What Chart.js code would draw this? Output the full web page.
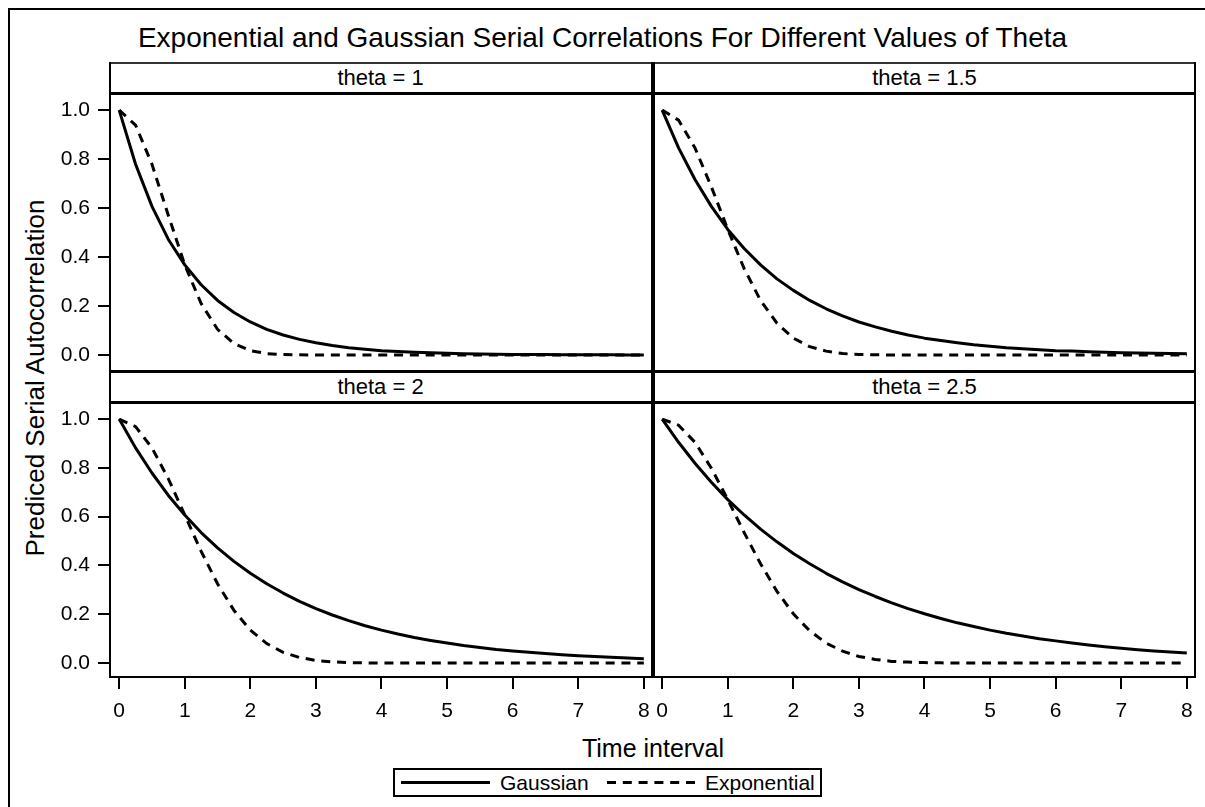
<!DOCTYPE html>
<html>
<head>
<meta charset="utf-8">
<title>Exponential and Gaussian Serial Correlations</title>
<script src="https://cdn.jsdelivr.net/npm/chart.js@4.4.1/dist/chart.umd.min.js"></script>
<style>
  html, body { margin: 0; padding: 0; background: #fff; }
  body { width: 1205px; height: 807px; position: relative; overflow: hidden;
         font-family: 'Liberation Sans', Arial, sans-serif; color: #000; }
  .abs { position: absolute; white-space: nowrap; }
  .frame { position: absolute; left: 8px; top: 8px; width: 1400px; height: 1000px;
           border-left: 2px solid #000; border-top: 2px solid #000; }
  .title { left: 0; top: 24px; width: 1205px; text-align: center; font-size: 28px; line-height: 28px; }
  .strip { display: flex; align-items: center; justify-content: center; font-size: 22px; }
  .rule { position: absolute; background: #000; }
  canvas { position: absolute; }
  .legend { position: absolute; left: 393px; top: 768px; width: 425px; height: 25px; border: 2px solid #000; }
  .legend span { position: absolute; top: 0; font-size: 21px; line-height: 25px; }
  .legend svg { position: absolute; top: 0; }
</style>
</head>
<body>
<div class="frame"></div>
<div class="abs title">Exponential and Gaussian Serial Correlations For Different Values of Theta</div>

<canvas id="panel1" width="603" height="276" style="left:50px; top:93px;"></canvas>
<canvas id="panel2" width="543" height="276" style="left:653px; top:93px;"></canvas>
<canvas id="panel3" width="603" height="330" style="left:50px; top:402px;"></canvas>
<canvas id="panel4" width="543" height="330" style="left:653px; top:402px;"></canvas>

<div class="abs strip" id="strip1" style="left:110px; top:64px; width:541px; height:28px;"></div>
<div class="abs strip" id="strip2" style="left:655px; top:64px; width:539px; height:28px;"></div>
<div class="abs strip" id="strip3" style="left:110px; top:373px; width:541px; height:28px;"></div>
<div class="abs strip" id="strip4" style="left:655px; top:373px; width:539px; height:28px;"></div>

<!-- panel frames -->
<div class="rule" style="left:109px; top:62px; width:1087px; height:2px; background:#333;"></div>
<div class="rule" style="left:109px; top:92px; width:1087px; height:3px;"></div>
<div class="rule" style="left:109px; top:370px; width:1087px; height:3px;"></div>
<div class="rule" style="left:109px; top:401px; width:1087px; height:3px;"></div>
<div class="rule" style="left:109px; top:676px; width:1087px; height:2px;"></div>
<div class="rule" style="left:109px; top:62px; width:2px; height:616px;"></div>
<div class="rule" style="left:651px; top:62px; width:4px; height:616px;"></div>
<div class="rule" style="left:1194px; top:62px; width:2px; height:616px;"></div>

<div class="abs" style="left:35px; top:378px; font-size:26px; line-height:26px; transform: translate(-50%, -50%) rotate(-90deg);">Prediced Serial Autocorrelation</div>
<div class="abs" style="left:110px; top:736px; width:1086px; text-align:center; font-size:25px; line-height:25px;">Time interval</div>

<div class="legend">
  <svg style="left:6px;" width="89" height="25"><line x1="0" y1="12.5" x2="89" y2="12.5" stroke="#000" stroke-width="3"/></svg>
  <span style="left:105px;">Gaussian</span>
  <svg style="left:212px;" width="88" height="25"><line x1="0" y1="12.5" x2="88" y2="12.5" stroke="#000" stroke-width="3" stroke-dasharray="9 6.8"/></svg>
  <span style="left:310px;">Exponential</span>
</div>

<script>
const timeInterval = [0, 0.25, 0.5, 0.75, 1, 1.25, 1.5, 1.75, 2, 2.25, 2.5, 2.75, 3, 3.25, 3.5, 3.75,
    4, 4.25, 4.5, 4.75, 5, 5.25, 5.5, 5.75, 6, 6.25, 6.5, 6.75, 7, 7.25, 7.5, 7.75, 8];

const thetaLabels = ['theta = 1', 'theta = 1.5', 'theta = 2', 'theta = 2.5'];

// solid curves
const gaussianTheta1 = [1, 0.779, 0.607, 0.472, 0.368, 0.287, 0.223, 0.174, 0.135, 0.105, 0.082, 0.064, 0.050,
    0.039, 0.030, 0.024, 0.018, 0.014, 0.011, 0.009, 0.007, 0.005, 0.004, 0.003, 0.002, 0.002, 0.002,
    0.001, 0.001, 0.001, 0.001, 0, 0];
const gaussianTheta15 = [1, 0.846, 0.717, 0.607, 0.513, 0.435, 0.368, 0.311, 0.264, 0.223, 0.189, 0.160, 0.135,
    0.115, 0.097, 0.082, 0.069, 0.059, 0.050, 0.042, 0.036, 0.030, 0.026, 0.022, 0.018, 0.016, 0.013,
    0.011, 0.009, 0.008, 0.007, 0.006, 0.005];
const gaussianTheta2 = [1, 0.882, 0.779, 0.687, 0.607, 0.535, 0.472, 0.417, 0.368, 0.325, 0.287, 0.253, 0.223,
    0.197, 0.174, 0.153, 0.135, 0.119, 0.105, 0.093, 0.082, 0.072, 0.064, 0.056, 0.050, 0.044, 0.039,
    0.034, 0.030, 0.027, 0.024, 0.021, 0.018];
const gaussianTheta25 = [1, 0.905, 0.819, 0.741, 0.670, 0.607, 0.549, 0.497, 0.449, 0.407, 0.368, 0.333, 0.301,
    0.273, 0.247, 0.223, 0.202, 0.183, 0.165, 0.150, 0.135, 0.122, 0.111, 0.100, 0.091, 0.082, 0.074,
    0.067, 0.061, 0.055, 0.050, 0.045, 0.041];

// dashed curves
const exponentialTheta1 = [1, 0.939, 0.779, 0.570, 0.368, 0.210, 0.105, 0.047, 0.018, 0.006, 0.002, 0.001, 0,
    0, 0, 0, 0, 0, 0, 0, 0, 0, 0, 0, 0, 0, 0, 0, 0, 0, 0, 0, 0];
const exponentialTheta15 = [1, 0.959, 0.846, 0.687, 0.513, 0.353, 0.223, 0.130, 0.069, 0.034, 0.016, 0.006, 0.002,
    0.001, 0, 0, 0, 0, 0, 0, 0, 0, 0, 0, 0, 0, 0, 0, 0, 0, 0, 0, 0];
const exponentialTheta2 = [1, 0.969, 0.882, 0.755, 0.607, 0.458, 0.325, 0.216, 0.135, 0.080, 0.044, 0.023, 0.011,
    0.005, 0.002, 0.001, 0, 0, 0, 0, 0, 0, 0, 0, 0, 0, 0, 0, 0, 0, 0, 0, 0];
const exponentialTheta25 = [1, 0.975, 0.905, 0.799, 0.670, 0.535, 0.407, 0.294, 0.202, 0.132, 0.082, 0.049, 0.027,
    0.015, 0.007, 0.004, 0.002, 0.001, 0, 0, 0, 0, 0, 0, 0, 0, 0, 0, 0, 0, 0, 0, 0];

const xTicks = [0, 1, 2, 3, 4, 5, 6, 7, 8];
const yTicks = [0, 0.2, 0.4, 0.6, 0.8, 1.0];

Chart.defaults.font.family = "'Liberation Sans', Arial, sans-serif";
Chart.defaults.color = '#000';

const toPoints = (vals) => timeInterval.map((t, i) => ({ x: t, y: vals[i] }));

// fixed axis sizes so every plot area lands on the panel frames
const fixAxis = (s, size) => {
    if (s.options.display) {
        if (s.isHorizontal()) s.height = size; else s.width = size;
    }
    s.paddingLeft = 0;
    s.paddingRight = 0;
    s.paddingTop = 0;
    s.paddingBottom = 0;
};

function makePanel(id, gaussVals, expVals, showX, showY) {
    new Chart(document.getElementById(id), {
        type: 'line',
        data: {
            datasets: [{
                label: 'Gaussian',
                data: toPoints(gaussVals),
                borderColor: '#000',
                borderWidth: 3,
                borderJoinStyle: 'round',
                pointRadius: 0,
                fill: false
            }, {
                label: 'Exponential',
                data: toPoints(expVals),
                borderColor: '#000',
                borderWidth: 3,
                borderDash: [9, 6.8],
                pointRadius: 0,
                fill: false
            }]
        },
        options: {
            responsive: false,
            animation: false,
            devicePixelRatio: 1,
            layout: { padding: 0, autoPadding: false },
            plugins: { legend: { display: false }, tooltip: { enabled: false } },
            scales: {
                x: {
                    type: 'linear',
                    min: -0.14,
                    max: 8.14,
                    display: showX,
                    afterBuildTicks: (s) => { s.ticks = xTicks.map((v) => ({ value: v })); },
                    afterFit: (s) => fixAxis(s, 55),
                    grid: { drawOnChartArea: false, tickLength: 12, lineWidth: 2, color: '#000' },
                    border: { display: false },
                    ticks: { autoSkip: false, maxRotation: 0, padding: 10, font: { size: 21 } }
                },
                y: {
                    type: 'linear',
                    min: -0.057,
                    max: 1.07,
                    display: showY,
                    afterBuildTicks: (s) => { s.ticks = yTicks.map((v) => ({ value: v })); },
                    afterFit: (s) => fixAxis(s, 60),
                    grid: { drawOnChartArea: false, tickLength: 12, lineWidth: 2, color: '#000' },
                    border: { display: false },
                    ticks: { padding: 8, font: { size: 21 }, callback: (v) => Number(v).toFixed(1) }
                }
            }
        }
    });
}

thetaLabels.forEach((label, i) => {
    document.getElementById('strip' + (i + 1)).textContent = label;
});

makePanel('panel1', gaussianTheta1, exponentialTheta1, false, true);
makePanel('panel2', gaussianTheta15, exponentialTheta15, false, false);
makePanel('panel3', gaussianTheta2, exponentialTheta2, true, true);
makePanel('panel4', gaussianTheta25, exponentialTheta25, true, false);
</script>
</body>
</html>
